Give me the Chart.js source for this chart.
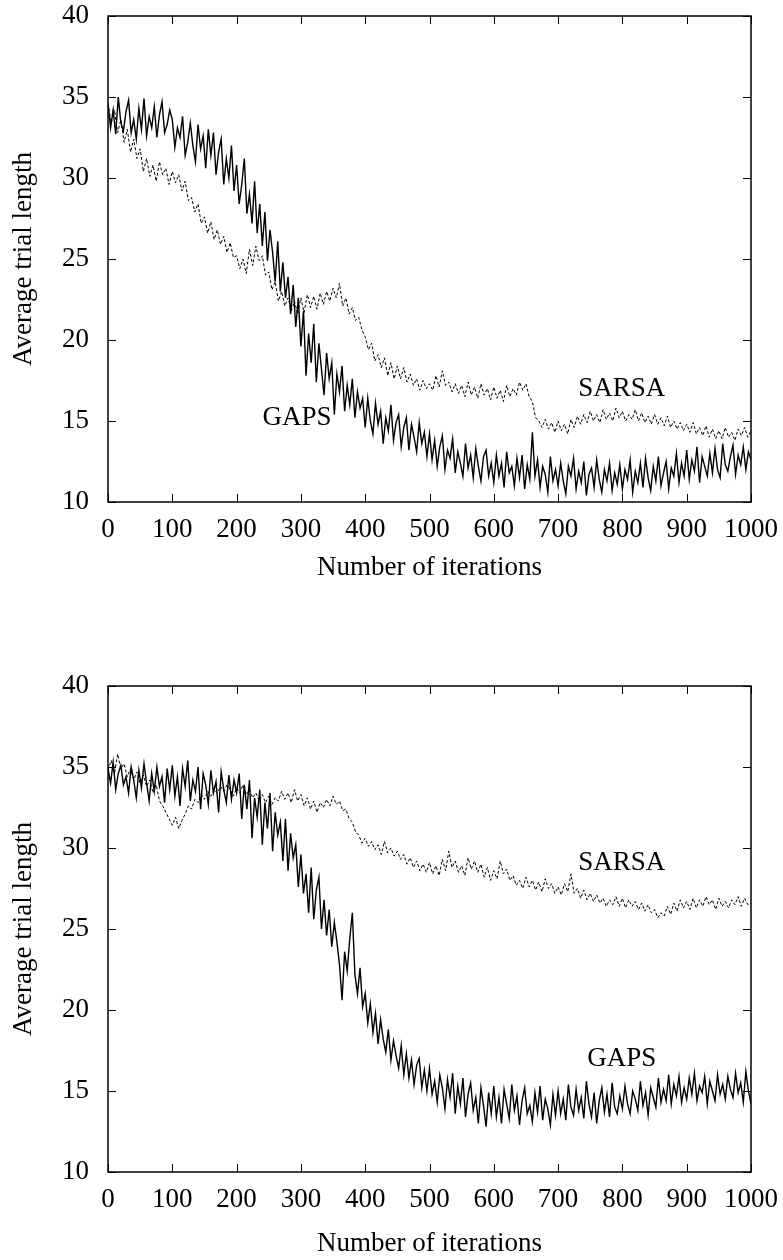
<!DOCTYPE html>
<html>
<head>
<meta charset="utf-8">
<script src="https://cdn.jsdelivr.net/npm/chart.js@4.4.1/dist/chart.umd.min.js"></script>
<style>
  html, body { margin: 0; padding: 0; background: #fff; overflow: hidden; }
  .panel { position: absolute; left: 0; width: 783px; height: 630px; }
</style>
</head>
<body>
<div class="panel" style="top:0px"><canvas id="chart-top"></canvas></div>
<div class="panel" style="top:630px"><canvas id="chart-bottom"></canvas></div>
<script>
// x values: GAPS read every 4 iterations, SARSA every 5
const gapsIters = Array.from({ length: 251 }, (_, i) => i * 4);
const sarsaIters = Array.from({ length: 201 }, (_, i) => i * 5);

const xTicks = [0, 100, 200, 300, 400, 500, 600, 700, 800, 900, 1000];
const yTicks = [10, 15, 20, 25, 30, 35, 40];

// top panel (one row = 100 iterations)
const gapsTop = [
  34.6, 33.1, 34.2, 32.7, 35.0, 33.4, 32.9, 34.1, 34.8, 32.8, 33.6, 32.4, 34.3, 33.0, 34.9, 32.6, 33.8, 33.1, 34.4, 32.5, 33.9, 34.7, 32.8, 33.3, 34.2,
  33.6, 31.9, 33.1, 32.5, 33.8, 31.4, 32.2, 33.4, 32.0, 31.0, 33.3, 31.8, 32.6, 30.6, 33.0, 31.4, 32.8, 30.2, 31.6, 32.4, 29.6, 31.2, 30.0, 32.0, 29.2,
  30.8, 28.4, 29.6, 31.2, 27.8, 29.0, 27.2, 29.8, 26.6, 28.4, 25.8, 27.9, 24.9, 26.8, 25.4, 23.6, 26.1, 23.0, 24.8, 22.6, 23.9, 21.6, 23.4, 20.8, 22.6,
  19.6, 21.8, 17.8, 20.4, 18.6, 21.0, 17.4, 19.8, 18.2, 16.6, 19.2, 17.6, 18.6, 15.4, 17.9, 16.8, 18.4, 15.6, 17.2, 16.0, 17.6, 15.2, 16.8, 15.8, 16.4,
  14.6, 16.4, 15.0, 14.2, 16.1, 14.8, 15.6, 13.6, 15.2, 14.4, 16.0, 13.8, 14.9, 15.4, 13.4, 14.6, 15.2, 13.2, 14.8, 14.0, 13.1, 14.9, 13.6, 14.3, 12.8,
  14.2, 12.6, 13.8, 12.2, 13.4, 14.1, 12.0, 13.2, 12.7, 13.9, 11.8, 13.1, 12.4, 11.6, 13.6, 12.1, 12.9, 11.5, 13.3, 12.2, 11.3, 12.8, 13.2, 11.6, 12.4,
  11.2, 12.9, 11.6, 12.4, 10.9, 13.1, 11.8, 12.2, 11.0, 12.7, 11.5, 12.9, 10.8, 12.3, 11.4, 14.3, 11.6, 12.6, 10.9, 12.2, 11.7, 10.6, 12.8, 11.3, 12.0,
  11.0, 12.4, 11.3, 10.5, 12.2, 11.6, 12.7, 10.8, 11.9, 11.2, 12.5, 10.4, 11.7, 12.1, 10.9, 12.6, 11.4, 10.6, 12.0, 11.3, 12.4, 10.7, 11.8, 11.1, 12.3,
  10.8, 12.0, 11.4, 12.6, 10.6, 11.9, 11.2, 12.4, 10.9, 12.7, 11.5, 10.7, 12.2, 11.3, 12.8, 11.0, 11.8, 12.5, 10.8, 12.1, 11.6, 13.0, 11.2, 12.4, 11.6,
  13.2, 11.4, 12.6, 11.9, 13.4, 11.2, 12.8, 12.2, 11.6, 13.0, 11.8, 13.3, 12.0, 11.5, 13.6, 12.3, 11.9, 12.8, 13.5, 11.7, 12.9, 12.3, 13.4, 12.0, 13.1,
  12.6
];
const sarsaTop = [
  34.6, 33.4, 34.2, 32.8, 33.6, 32.2, 33.0, 31.6, 32.4, 31.2, 31.8, 30.4, 31.2, 30.1, 30.8, 29.8, 31.0, 30.2, 30.6, 29.6,
  30.4, 29.7, 30.2, 29.2, 29.8, 28.6, 28.8, 27.9, 28.4, 27.2, 27.6, 26.6, 27.3, 26.2, 26.8, 25.9, 26.4, 25.4, 26.0, 25.1,
  25.2, 24.4, 25.0, 24.1, 25.6, 24.6, 25.8, 24.9, 25.2, 24.0, 24.2, 23.1, 23.6, 22.4, 23.0, 22.1, 22.6, 21.8, 22.4, 21.6,
  22.6, 21.7, 22.8, 22.0, 22.7, 21.9, 22.9, 22.2, 23.0, 22.4, 23.2, 22.6, 23.5, 22.1, 22.6, 21.6, 22.0, 21.2, 21.4, 20.6,
  20.2, 19.4, 19.8, 18.7, 19.1, 18.3, 18.9, 17.8, 18.6, 17.6, 18.4, 17.6, 18.3, 17.4, 17.9, 17.2, 17.6, 16.9, 17.5, 17.0,
  17.3, 16.9, 17.8, 17.1, 18.1, 17.2, 17.4, 16.8, 17.3, 16.7, 17.2, 16.5, 17.4, 16.6, 17.1, 16.4, 17.3, 16.6, 17.0, 16.3,
  17.1, 16.4, 16.9, 16.2, 17.2, 16.5, 17.0, 16.6, 17.4, 16.9, 17.3, 16.5, 16.2, 15.2, 15.0, 14.6, 15.1, 14.5, 14.9, 14.3,
  15.0, 14.4, 14.8, 14.2, 15.1, 14.6, 15.3, 14.8, 15.4, 14.9, 15.6, 15.0, 15.4, 14.9, 15.7, 15.1, 15.5, 15.0, 15.8, 15.2,
  15.6, 15.0, 15.4, 15.1, 15.7, 15.0, 15.5, 14.9, 15.3, 14.8, 15.4, 14.8, 15.2, 14.7, 15.3, 14.6, 15.0, 14.5, 14.9, 14.4,
  14.8, 14.3, 14.9, 14.2, 14.6, 14.1, 14.7, 14.0, 14.5, 13.9, 14.4, 13.9, 14.6, 14.0, 14.3, 13.8, 14.5, 14.1, 14.6, 14.0,
  14.4
];

// bottom panel
const gapsBottom = [
  34.9, 34.0, 35.3, 33.6, 34.6, 35.1, 33.9, 34.4, 33.4, 35.0, 34.2, 33.1, 34.8, 33.7, 35.2, 34.0, 32.9, 34.6, 33.5, 35.0, 33.8, 34.4, 32.8, 34.9, 33.6,
  35.1, 33.2, 34.4, 32.6, 34.9, 33.8, 35.4, 32.9, 34.2, 33.5, 35.0, 32.4, 34.6, 33.9, 32.7, 34.8, 33.4, 34.1, 32.2, 34.7, 33.6, 32.8, 34.5, 33.0, 34.2,
  33.4, 34.6, 31.8, 33.9, 32.4, 34.2, 30.6, 33.1, 31.9, 33.6, 30.2, 32.8, 31.2, 33.4, 29.8, 32.2, 30.8, 31.6, 29.2, 31.8, 28.6, 30.9, 29.4, 30.2, 27.6,
  29.6, 27.2, 28.4, 26.0, 28.8, 25.6, 27.4, 28.2, 25.0, 26.8, 24.6, 26.2, 23.9, 25.4, 24.2, 22.8, 20.6, 23.6, 22.4, 24.4, 26.0, 22.2, 21.0, 22.6, 20.2,
  21.0, 19.2, 20.4, 18.6, 19.8, 17.9, 19.4, 18.2, 17.4, 18.8, 16.9, 18.1, 17.2, 16.4, 17.8, 16.0, 17.3, 15.8, 16.9, 15.4, 16.6, 17.0, 15.2, 16.3, 15.0,
  16.4, 14.8, 15.6, 14.3, 16.0, 15.2, 13.9, 15.7, 14.6, 16.1, 13.6, 15.3, 14.2, 15.8, 13.4, 14.8, 15.5, 13.8, 14.6, 13.0, 15.2, 14.1, 12.8, 14.9, 13.6,
  15.3, 13.4, 14.6, 13.0, 15.1, 14.2, 13.3, 15.4, 13.8, 14.7, 12.9, 14.4, 15.2, 13.6, 14.1, 13.1, 14.9, 13.7, 15.3, 13.2, 14.5, 13.9, 12.9, 14.8, 13.5,
  15.0, 13.6, 14.5, 13.2, 15.4, 14.0, 13.5, 15.1, 13.8, 14.6, 13.3, 15.6, 14.2, 13.4, 14.9, 13.0, 14.4, 15.2, 13.7, 14.8, 13.4, 15.5, 14.0, 13.6, 14.7,
  13.9, 15.3, 14.2, 13.6, 15.0, 14.5, 13.8, 15.6, 14.1, 14.9, 13.5, 15.2, 14.6, 14.0, 15.8, 14.3, 15.1, 14.4, 16.0, 14.2, 15.4, 14.7, 15.9, 14.3, 15.2,
  14.5, 15.8, 14.8, 16.1, 14.4, 15.3, 14.9, 15.9, 14.2, 15.6, 15.0, 14.4, 16.0, 14.8, 15.4, 14.5, 15.9, 15.1, 14.6, 16.1, 14.9, 15.5, 14.3, 16.2, 15.0,
  14.2
];
const sarsaBottom = [
  34.8, 35.4, 34.6, 35.8, 34.9, 35.2, 34.4, 34.9, 34.2, 34.7, 34.0, 34.5, 33.8, 34.2, 33.4, 33.9, 32.9, 32.6, 32.2, 31.8,
  31.4, 31.9, 31.2, 31.7, 32.1, 32.6, 32.4, 33.0, 32.8, 33.3, 33.0, 33.5, 33.2, 33.6, 33.4, 33.8, 33.5, 33.9, 33.6, 33.2,
  33.7, 33.4, 33.9, 33.3, 33.6, 33.1, 33.4, 32.9, 33.3, 32.8, 33.2, 32.7, 33.1, 32.9, 33.5, 33.0, 33.4, 32.8, 33.6, 32.9,
  33.3, 32.6, 33.1, 32.4, 32.9, 32.2, 32.8, 32.5, 33.0, 32.6, 33.2, 32.7, 32.9, 32.3, 32.4, 31.8, 31.6, 31.0, 30.8, 30.3,
  30.6, 30.1, 30.4, 29.9, 30.2, 29.6, 30.4, 29.7, 30.0, 29.5, 29.8, 29.3, 29.6, 29.0, 29.4, 28.8, 29.2, 28.6, 29.0, 28.5,
  29.1, 28.4, 28.9, 28.3, 29.3, 28.6, 29.8, 28.8, 29.2, 28.5, 28.9, 28.3, 29.4, 28.7, 29.2, 28.5, 29.0, 28.2, 28.8, 28.0,
  28.6, 28.1, 29.2, 28.4, 28.7, 28.0, 28.3, 27.7, 28.0, 27.5, 28.2, 27.6, 28.0, 27.4, 27.9, 27.3, 28.1, 27.5, 27.8, 27.2,
  27.6, 27.1, 27.8, 27.3, 28.4, 27.2, 27.5, 26.9, 27.4, 26.8, 27.2, 26.7, 27.1, 26.6, 26.9, 26.4, 26.8, 26.5, 27.0, 26.4,
  26.9, 26.3, 26.8, 26.4, 26.7, 26.2, 26.6, 26.1, 26.5, 26.0, 26.2, 25.7, 26.0, 25.8, 26.4, 25.9, 26.6, 26.1, 26.8, 26.3,
  26.7, 26.2, 26.9, 26.3, 26.8, 26.4, 27.0, 26.5, 26.8, 26.2, 26.9, 26.4, 26.7, 26.3, 26.8, 26.5, 27.0, 26.4, 26.9, 26.5,
  26.6
];

const FONT = { family: '"Liberation Serif", "Times New Roman", serif', size: 27 };

// box round the plot plus inward tick marks on all four sides
const frame = {
  id: 'frame',
  afterDatasetsDraw(chart) {
    const { ctx, chartArea: a, scales: { x, y } } = chart;
    const len = 8;
    ctx.save();
    ctx.strokeStyle = '#000';
    ctx.lineWidth = 1;
    ctx.beginPath();
    x.ticks.forEach(t => {
      const px = Math.round(x.getPixelForValue(t.value)) + 0.5;
      ctx.moveTo(px, a.bottom); ctx.lineTo(px, a.bottom - len);
      ctx.moveTo(px, a.top); ctx.lineTo(px, a.top + len);
    });
    y.ticks.forEach(t => {
      const py = Math.round(y.getPixelForValue(t.value)) + 0.5;
      ctx.moveTo(a.left, py); ctx.lineTo(a.left + len, py);
      ctx.moveTo(a.right, py); ctx.lineTo(a.right - len, py);
    });
    ctx.stroke();
    ctx.lineWidth = 1.5;
    ctx.strokeRect(a.left, a.top, a.right - a.left, a.bottom - a.top);
    ctx.restore();
  }
};

// curve names written next to the lines
const curveNames = {
  id: 'curveNames',
  afterDraw(chart, args, opts) {
    const { ctx, scales: { x, y } } = chart;
    ctx.save();
    ctx.fillStyle = '#000';
    ctx.font = `${FONT.size}px ${FONT.family}`;
    ctx.textAlign = 'center';
    ctx.textBaseline = 'middle';
    (opts.items || []).forEach(it => {
      ctx.fillText(it.text, x.getPixelForValue(it.x), y.getPixelForValue(it.y));
    });
    ctx.restore();
  }
};

// labels may hang over the plot edges, the layout padding already leaves room
function noEdgePadding(s) {
  s.paddingLeft = 0;
  s.paddingRight = 0;
  s.paddingTop = 0;
  s.paddingBottom = 0;
}

function makeChart(id, gaps, sarsa, padTop, xAxisHeight, titlePad, names) {
  return new Chart(document.getElementById(id), {
    type: 'line',
    data: {
      datasets: [
        {
          label: 'SARSA',
          data: sarsaIters.map((it, i) => ({ x: it, y: sarsa[i] })),
          borderColor: '#000',
          borderWidth: 1,
          borderDash: [3, 2],
          pointRadius: 0,
          tension: 0
        },
        {
          label: 'GAPS',
          data: gapsIters.map((it, i) => ({ x: it, y: gaps[i] })),
          borderColor: '#000',
          borderWidth: 1.4,
          pointRadius: 0,
          tension: 0
        }
      ]
    },
    options: {
      responsive: true,
      maintainAspectRatio: false,
      animation: false,
      layout: { padding: { top: padTop, right: 32, left: 0, bottom: 0 } },
      plugins: {
        legend: { display: false },
        tooltip: { enabled: false },
        curveNames: { items: names }
      },
      scales: {
        x: {
          type: 'linear',
          min: 0,
          max: 1000,
          afterBuildTicks: s => { s.ticks = xTicks.map(v => ({ value: v })); },
          afterFit: s => { s.height = xAxisHeight; noEdgePadding(s); },
          grid: { display: false, drawTicks: false },
          border: { display: false },
          ticks: { color: '#000', font: FONT, padding: 12, maxRotation: 0, autoSkip: false, callback: v => String(v) },
          title: { display: true, text: 'Number of iterations', color: '#000', font: FONT, padding: { top: 0, bottom: titlePad } }
        },
        y: {
          type: 'linear',
          min: 10,
          max: 40,
          afterBuildTicks: s => { s.ticks = yTicks.map(v => ({ value: v })); },
          afterFit: s => { s.width = 108; noEdgePadding(s); },
          grid: { display: false, drawTicks: false },
          border: { display: false },
          ticks: { color: '#000', font: FONT, padding: 19, callback: v => String(v) },
          title: { display: true, text: 'Average trial length', color: '#000', font: FONT, padding: { top: 8, bottom: 0 } }
        }
      }
    },
    plugins: [frame, curveNames]
  });
}

makeChart('chart-top', gapsTop, sarsaTop, 16, 128, 46,
  [{ text: 'SARSA', x: 799, y: 17.0 }, { text: 'GAPS', x: 294, y: 15.2 }]);
makeChart('chart-bottom', gapsBottom, sarsaBottom, 56, 88, 0,
  [{ text: 'SARSA', x: 799, y: 29.1 }, { text: 'GAPS', x: 799, y: 17.0 }]);
</script>
</body>
</html>
